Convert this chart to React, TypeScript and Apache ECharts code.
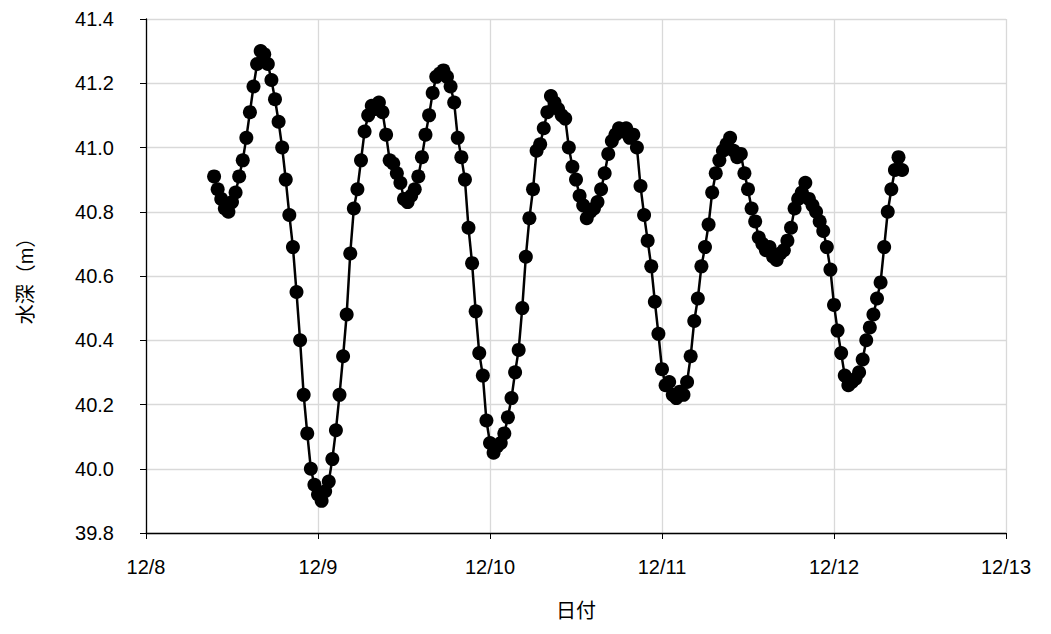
import React, { useEffect, useRef } from "react";
import * as echarts from "echarts";

// Time in hours since 12/8 00:00; readings every 30 minutes starting 12/8 09:30
const START_HOUR = 9.5;
const STEP_HOURS = 0.5;
const depthValues: number[] = [
  40.91, 40.87, 40.84, 40.81, 40.80, 40.83, 40.86, 40.91, 40.96, 41.03,
  41.11, 41.19, 41.26, 41.30, 41.29, 41.26, 41.21, 41.15, 41.08, 41.00,
  40.90, 40.79, 40.69, 40.55, 40.40, 40.23, 40.11, 40.00, 39.95, 39.92,
  39.90, 39.93, 39.96, 40.03, 40.12, 40.23, 40.35, 40.48, 40.67, 40.81,
  40.87, 40.96, 41.05, 41.10, 41.13, 41.12, 41.14, 41.11, 41.04, 40.96,
  40.95, 40.92, 40.89, 40.84, 40.83, 40.85, 40.87, 40.91, 40.97, 41.04,
  41.10, 41.17, 41.22, 41.23, 41.24, 41.22, 41.19, 41.14, 41.03, 40.97,
  40.90, 40.75, 40.64, 40.49, 40.36, 40.29, 40.15, 40.08, 40.05, 40.07,
  40.08, 40.11, 40.16, 40.22, 40.30, 40.37, 40.50, 40.66, 40.78, 40.87,
  40.99, 41.01, 41.06, 41.11, 41.16, 41.14, 41.12, 41.10, 41.09, 41.00,
  40.94, 40.90, 40.85, 40.82, 40.78, 40.80, 40.81, 40.83, 40.87, 40.92,
  40.98, 41.02, 41.04, 41.06, 41.05, 41.06, 41.03, 41.04, 41.00, 40.88,
  40.79, 40.71, 40.63, 40.52, 40.42, 40.31, 40.26, 40.27, 40.23, 40.22,
  40.24, 40.23, 40.27, 40.35, 40.46, 40.53, 40.63, 40.69, 40.76, 40.86,
  40.92, 40.96, 40.99, 41.01, 41.03, 40.99, 40.97, 40.98, 40.92, 40.87,
  40.81, 40.77, 40.72, 40.70, 40.68, 40.69, 40.66, 40.65, 40.67, 40.68,
  40.71, 40.75, 40.81, 40.84, 40.86, 40.89, 40.84, 40.82, 40.80, 40.77,
  40.74, 40.69, 40.62, 40.51, 40.43, 40.36, 40.29, 40.26, 40.27, 40.28,
  40.30, 40.34, 40.40, 40.44, 40.48, 40.53, 40.58, 40.69, 40.80, 40.87,
  40.93, 40.97, 40.93,
];

const xTickLabels = ["12/8", "12/9", "12/10", "12/11", "12/12", "12/13"];
const xAxisTitle = "日付";
const yAxisTitle = "水深（m）";

const FONT = "'Liberation Sans', Arial, 'Noto Sans CJK JP', sans-serif";

export default function App() {
  const ref = useRef<HTMLDivElement>(null);

  useEffect(() => {
    if (!ref.current) return;
    const chart = echarts.init(ref.current, undefined, { renderer: "svg" });
    const data = depthValues.map((v, i) => [START_HOUR + i * STEP_HOURS, v]);
    chart.setOption({
      animation: false,
      backgroundColor: "#ffffff",
      grid: { left: 127, right: 37, top: 11, bottom: 82 },
      xAxis: {
        type: "value",
        min: 0,
        max: 120,
        interval: 24,
        name: xAxisTitle,
        nameLocation: "middle",
        nameGap: 68,
        nameTextStyle: { color: "#000", fontSize: 20, fontFamily: FONT },
        axisLine: { show: true, lineStyle: { color: "#000", width: 1.3 } },
        axisTick: { show: true, inside: false, length: 6, lineStyle: { color: "#000" } },
        axisLabel: {
          color: "#000",
          fontSize: 20,
          fontFamily: FONT,
          margin: 24,
          formatter: (v: number) => xTickLabels[Math.round(v / 24)] ?? "",
        },
        splitLine: { show: true, lineStyle: { color: "#d9d9d9", width: 1.3 } },
      },
      yAxis: {
        type: "value",
        min: 39.8,
        max: 41.4,
        interval: 0.2,
        name: yAxisTitle,
        nameLocation: "middle",
        nameGap: 110,
        nameRotate: 90,
        nameTextStyle: { color: "#000", fontSize: 20, fontFamily: FONT },
        axisLine: { show: true, lineStyle: { color: "#000", width: 1.3 } },
        axisTick: { show: true, inside: false, length: 6, lineStyle: { color: "#000" } },
        axisLabel: {
          color: "#000",
          fontSize: 20,
          fontFamily: FONT,
          margin: 32,
          formatter: (v: number) => v.toFixed(1),
        },
        splitLine: { show: true, lineStyle: { color: "#d9d9d9", width: 1.3 } },
      },
      series: [
        {
          type: "line",
          data,
          symbol: "circle",
          symbolSize: 14,
          showAllSymbol: true,
          itemStyle: { color: "#000" },
          lineStyle: { color: "#000", width: 2.5 },
        },
      ],
    });
    return () => chart.dispose();
  }, []);

  return <div ref={ref} style={{ width: 1035, height: 618 }} />;
}
